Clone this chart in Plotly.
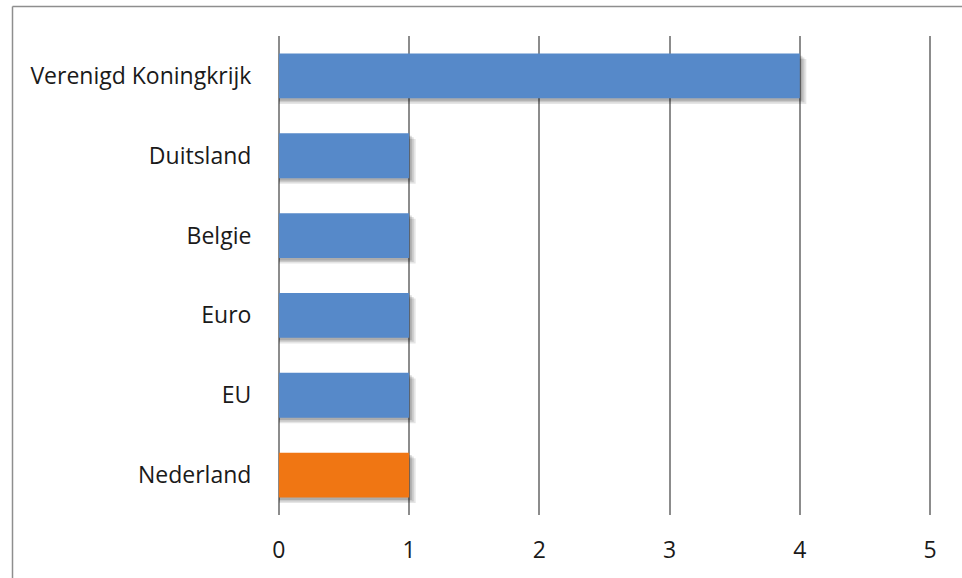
import plotly.graph_objects as go

# Categories listed bottom-to-top as they appear on the axis
landen = ["Nederland", "EU", "Euro", "Belgie", "Duitsland", "Verenigd Koningkrijk"]
waarden = [1, 1, 1, 1, 1, 4]
kleuren = ["#F07613", "#5689C9", "#5689C9", "#5689C9", "#5689C9", "#5689C9"]
x_ticks = [0, 1, 2, 3, 4, 5]

W, H = 962, 578
PAD = 0.015  # small slack so the gridlines at 0 and 5 are kept
M = dict(l=277, r=30, t=36, b=63)
pw = W - M["l"] - M["r"]
ph = H - M["t"] - M["b"]

fig = go.Figure()

# soft drop shadow layers under each bar, offset down-right
for dx, dy, op in [(0.05, 0.07, 0.10), (0.035, 0.05, 0.12), (0.02, 0.03, 0.14)]:
    fig.add_trace(go.Bar(
        y=landen, x=[v + dx for v in waarden], orientation="h",
        width=0.5625, offset=-0.5625 / 2 - dy,
        marker=dict(color=f"rgba(0,0,0,{op})", line=dict(width=0)),
        hoverinfo="skip", showlegend=False,
    ))

fig.add_trace(go.Bar(
    y=landen, x=waarden, orientation="h",
    width=0.5625,
    marker=dict(color=kleuren, line=dict(width=0)),
    showlegend=False,
))

# outer frame of the chart area
def px_x(p):
    return (p - M["l"]) / pw

def px_y(p):
    return 1 - (p - M["t"]) / ph

fig.add_shape(type="line", xref="paper", yref="paper",
              x0=px_x(12.5), x1=px_x(W + 5), y0=px_y(6.5), y1=px_y(6.5),
              line=dict(color="#8E8E8E", width=1.5))
fig.add_shape(type="line", xref="paper", yref="paper",
              x0=px_x(12.5), x1=px_x(12.5), y0=px_y(6.5), y1=px_y(H + 5),
              line=dict(color="#8E8E8E", width=1.5))

fig.update_layout(
    width=W, height=H, margin=M,
    barmode="overlay",
    plot_bgcolor="white", paper_bgcolor="white",
    font=dict(family="Open Sans", size=23, color="#1a1a1a"),
    xaxis=dict(
        range=[-PAD, 5 + PAD], tickvals=x_ticks, ticktext=[str(t) for t in x_ticks],
        showgrid=True, gridcolor="#8C8C8C", gridwidth=2,
        zeroline=False, showline=False,
        ticks="outside", ticklen=14, tickcolor="rgba(0,0,0,0)",
        fixedrange=True,
    ),
    yaxis=dict(
        showgrid=False, zeroline=False, showline=False,
        ticks="outside", ticklen=20, tickcolor="rgba(0,0,0,0)",
        range=[-0.5, 5.5], fixedrange=True,
    ),
)

fig.write_html("out.html")
